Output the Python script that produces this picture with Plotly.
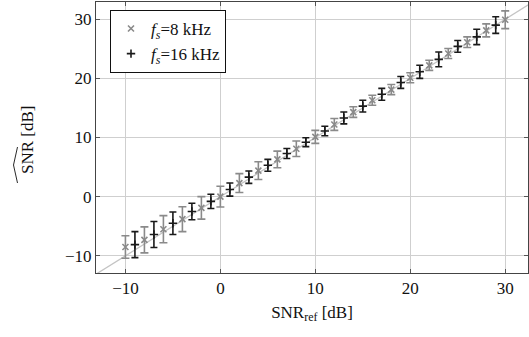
import plotly.graph_objects as go

# ---- data ----
snr_ref_8k = [-10, -8, -6, -4, -2, 0, 2, 4, 6, 8, 10, 12, 14, 16, 18, 20, 22, 24, 26, 28, 30]
snr_est_8k = [-8.5, -7.3, -5.5, -3.8, -1.9, 0.0, 2.3, 4.4, 6.3, 8.1, 10.1, 12.2, 14.3, 16.3, 18.1, 20.1, 22.2, 24.2, 26.1, 28.1, 29.9]
err_8k = [1.9, 2.2, 2.3, 2.1, 1.9, 1.75, 1.6, 1.5, 1.4, 1.3, 1.1, 1.0, 0.9, 0.85, 0.85, 0.85, 0.85, 0.85, 0.9, 1.1, 1.5]

snr_ref_16k = [-9, -7, -5, -3, -1, 1, 3, 5, 7, 9, 11, 13, 15, 17, 19, 21, 23, 25, 27, 29]
snr_est_16k = [-8.1, -6.4, -4.5, -2.5, -0.8, 1.2, 3.3, 5.3, 7.3, 9.2, 11.1, 13.3, 15.3, 17.3, 19.3, 21.1, 23.2, 25.4, 27.0, 29.0]
err_16k = [2.2, 2.2, 1.9, 1.4, 1.2, 1.1, 1.05, 1.0, 0.85, 0.75, 0.8, 1.0, 1.0, 1.0, 1.0, 1.1, 1.25, 1.0, 1.3, 1.4]

diag_x = [-14, 34]
diag_y = [-14, 34]

x_ticks = [-10, 0, 10, 20, 30]
y_ticks = [-10, 0, 10, 20, 30]

FONT = "Liberation Serif, Times New Roman, serif"
GRAY = "#8a8a8a"

fig = go.Figure()
fig.add_trace(go.Scatter(x=diag_x, y=diag_y, mode="lines",
                         line=dict(color="#c4c4c4", width=1.3),
                         showlegend=False, hoverinfo="skip"))
fig.add_trace(go.Scatter(
    x=snr_ref_8k, y=snr_est_8k, mode="markers",
    name="<i>f<sub>s</sub></i>=8 kHz",
    marker=dict(symbol="x-thin", size=6, color=GRAY, line=dict(color=GRAY, width=1.6)),
    error_y=dict(type="data", array=err_8k, visible=True, color=GRAY, thickness=1.6, width=4),
))
fig.add_trace(go.Scatter(
    x=snr_ref_16k, y=snr_est_16k, mode="markers",
    name="<i>f<sub>s</sub></i>=16 kHz",
    marker=dict(symbol="cross-thin", size=6, color="#1a1a1a", line=dict(color="#1a1a1a", width=1.6)),
    error_y=dict(type="data", array=err_16k, visible=True, color="#1a1a1a", thickness=1.6, width=3.5),
))

L, R, T, B = 96, 1, 2, 64
W, H = 529, 337
pw, ph = W - L - R, H - T - B

fig.update_layout(
    width=W, height=H,
    margin=dict(l=L, r=R, t=T, b=B),
    plot_bgcolor="white", paper_bgcolor="white",
    font=dict(family=FONT, size=15, color="#111"),
    showlegend=True,
    legend=dict(x=(110 - L) / pw, y=(H - B - 10) / ph, xanchor="left", yanchor="top",
                bordercolor="#111", borderwidth=1, bgcolor="white",
                font=dict(family=FONT, size=17), itemwidth=30,
                tracegroupgap=0, itemsizing="trace"),
    xaxis=dict(range=[-13.1, 32.4], tickvals=x_ticks, ticks="inside", ticklen=4,
               tickcolor="#555", showgrid=True, gridcolor="#cfcfcf", gridwidth=1,
               zeroline=False, showline=True, linecolor="#444", linewidth=1, mirror="ticks",
               tickfont=dict(family=FONT, size=17),
               title=dict(text="SNR<sub>ref</sub> [dB]", font=dict(family=FONT, size=17), standoff=8)),
    yaxis=dict(range=[-12.9, 32.9], tickvals=y_ticks, ticks="inside", ticklen=4,
               tickcolor="#555", showgrid=True, gridcolor="#cfcfcf", gridwidth=1,
               zeroline=False, showline=True, linecolor="#444", linewidth=1, mirror="ticks",
               tickfont=dict(family=FONT, size=17)),
)

# y-axis title (rotated) with wide hat over SNR
def px2paper(px, py):
    return (px - L) / pw, (H - B - py) / ph

tx, ty = px2paper(27, 140)
fig.add_annotation(text="SNR [dB]", x=tx, y=ty, xref="paper", yref="paper",
                   textangle=-90, showarrow=False, font=dict(family=FONT, size=17),
                   xanchor="center", yanchor="middle")
p1 = px2paper(17.5, 183)
p2 = px2paper(13.5, 165)
p3 = px2paper(17.5, 147)
fig.add_shape(type="path", xref="paper", yref="paper",
              path=f"M {p1[0]} {p1[1]} L {p2[0]} {p2[1]} L {p3[0]} {p3[1]}",
              line=dict(color="#111", width=0.9))

fig.write_html("out.html", config={"displayModeBar": False},
               post_script="document.body.style.margin='0';")
